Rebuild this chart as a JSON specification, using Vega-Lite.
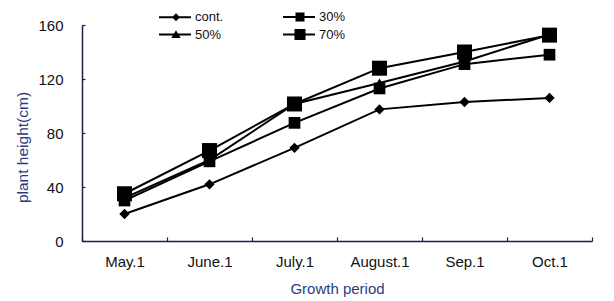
{
  "$schema": "https://vega.github.io/schema/vega-lite/v6.json",
  "width": 510,
  "height": 216,
  "autosize": {"type": "none"},
  "padding": {"left": 82, "top": 25, "right": 22, "bottom": 60},
  "background": "white",
  "config": {"view": {"stroke": null}, "font": "Liberation Sans"},
  "data": {"values": [
    {"period": "May.1", "series": "cont.", "height": 20},
    {"period": "June.1", "series": "cont.", "height": 42},
    {"period": "July.1", "series": "cont.", "height": 69},
    {"period": "August.1", "series": "cont.", "height": 97.5},
    {"period": "Sep.1", "series": "cont.", "height": 103},
    {"period": "Oct.1", "series": "cont.", "height": 106},
    {"period": "May.1", "series": "30%", "height": 30},
    {"period": "June.1", "series": "30%", "height": 59},
    {"period": "July.1", "series": "30%", "height": 87.5},
    {"period": "August.1", "series": "30%", "height": 113},
    {"period": "Sep.1", "series": "30%", "height": 131},
    {"period": "Oct.1", "series": "30%", "height": 138},
    {"period": "May.1", "series": "50%", "height": 32},
    {"period": "June.1", "series": "50%", "height": 60},
    {"period": "July.1", "series": "50%", "height": 101.5},
    {"period": "August.1", "series": "50%", "height": 117},
    {"period": "Sep.1", "series": "50%", "height": 133},
    {"period": "Oct.1", "series": "50%", "height": 153},
    {"period": "May.1", "series": "70%", "height": 35},
    {"period": "June.1", "series": "70%", "height": 67},
    {"period": "July.1", "series": "70%", "height": 101.5},
    {"period": "August.1", "series": "70%", "height": 128},
    {"period": "Sep.1", "series": "70%", "height": 140},
    {"period": "Oct.1", "series": "70%", "height": 152.5}
  ]},
  "encoding": {
    "x": {
      "field": "period", "type": "ordinal",
      "sort": ["May.1", "June.1", "July.1", "August.1", "Sep.1", "Oct.1"],
      "scale": {"type": "band", "paddingInner": 0, "paddingOuter": 0},
      "axis": {
        "title": "Growth period", "labelAngle": 0, "tickBand": "extent",
        "tickSize": -4, "tickColor": "#1a1f4a", "tickWidth": 1.2,
        "domainColor": "#1a1f4a", "domainWidth": 1.5,
        "labelFontSize": 15, "labelColor": "#111", "labelPadding": 17,
        "titleFontSize": 15, "titleFontWeight": "normal", "titleColor": "#2b3b80", "titlePadding": 12
      }
    },
    "y": {
      "field": "height", "type": "quantitative",
      "scale": {"domain": [0, 160]},
      "axis": {
        "title": "plant height(cm)", "values": [0, 40, 80, 120, 160], "grid": false,
        "tickSize": -3, "tickColor": "#1a1f4a", "tickWidth": 1.2,
        "domainColor": "#1a1f4a", "domainWidth": 1.5,
        "labelFontSize": 15, "labelColor": "#111", "labelPadding": 22,
        "titleFontSize": 15.5, "titleFontWeight": "normal", "titleColor": "#2b3b80",
        "titleAngle": 270, "titleAlign": "center", "titleBaseline": "middle",
        "titleX": -60, "titleY": 122
      }
    }
  },
  "resolve": {"scale": {"shape": "independent"}, "legend": {"shape": "independent"}},
  "layer": [
    {
      "mark": {"type": "line", "color": "black", "strokeWidth": 2},
      "encoding": {"detail": {"field": "series"}}
    },
    {
      "mark": {"type": "point", "filled": true, "color": "black", "opacity": 1, "size": 225},
      "encoding": {
        "shape": {
          "field": "series", "type": "nominal", "legend": null,
          "scale": {
            "domain": ["cont.", "30%", "50%", "70%"],
            "range": [
              "M0,-0.69L0.69,0L0,0.69L-0.69,0Z",
              "M-0.78,-0.78H0.78V0.78H-0.78Z",
              "M0,-0.62L0.72,0.55H-0.72Z",
              "M-1,-1H1V1H-1Z"
            ]
          }
        }
      }
    },
    {
      "mark": {"type": "point", "filled": true, "color": "black", "opacity": 0, "size": 1},
      "encoding": {
        "shape": {
          "field": "series", "type": "nominal",
          "scale": {
            "domain": ["cont.", "30%", "50%", "70%"],
            "range": [
              "M-1,-0.12H2.76V0.12H-1ZM1,-0.47L1.47,0L1,0.47L0.53,0Z",
              "M-1,-0.12H2.76V0.12H-1ZM0.47,-0.53H1.53V0.53H0.47Z",
              "M-1,-0.12H2.76V0.12H-1ZM1,-0.5L1.55,0.4H0.45Z",
              "M-1,-0.12H2.76V0.12H-1ZM0.35,-0.65H1.65V0.65H0.35Z"
            ]
          },
          "legend": {
            "title": null, "orient": "none", "legendX": 76, "legendY": -18,
            "direction": "horizontal",
            "columns": 2, "columnPadding": 56, "rowPadding": 0,
            "labelFontSize": 13, "labelColor": "#111", "labelOffset": 18,
            "symbolSize": 289, "symbolOpacity": 1, "symbolFillColor": "black"
          }
        }
      }
    }
  ]
}
